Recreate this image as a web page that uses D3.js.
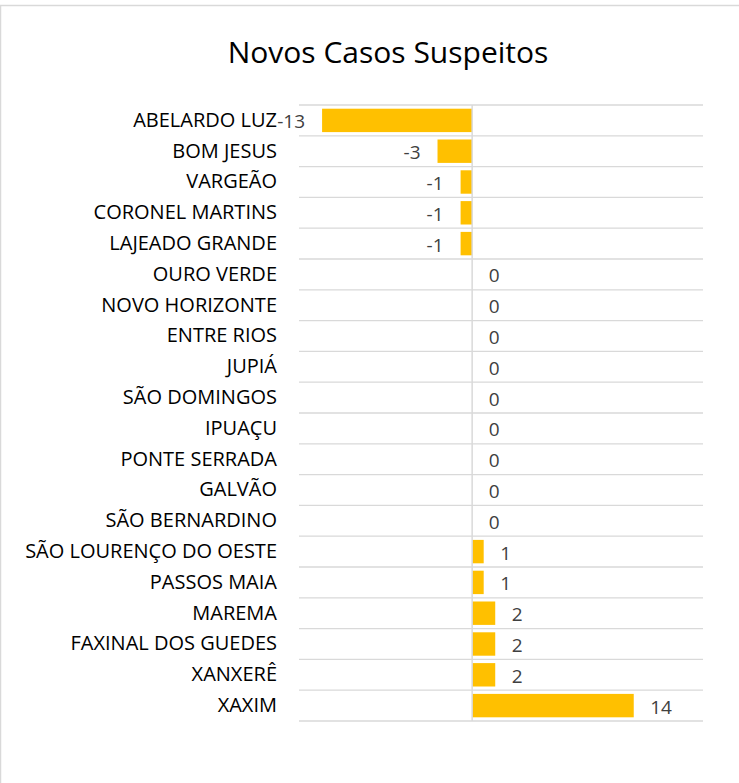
<!DOCTYPE html>
<html>
<head>
<meta charset="utf-8">
<script src="https://cdn.jsdelivr.net/npm/d3@7"></script>
<style>
  body { margin: 0; background: #fff; }
  text { font-family: "Open Sans", "Noto Sans", sans-serif; }
</style>
</head>
<body>
<div class="chart-container"></div>
<script>
const svgWidth = 739;
const svgHeight = 783;

const chartTitle = "Novos Casos Suspeitos";
const cidades = ["ABELARDO LUZ", "BOM JESUS", "VARGEÃO", "CORONEL MARTINS", "LAJEADO GRANDE",
  "OURO VERDE", "NOVO HORIZONTE", "ENTRE RIOS", "JUPIÁ", "SÃO DOMINGOS", "IPUAÇU",
  "PONTE SERRADA", "GALVÃO", "SÃO BERNARDINO", "SÃO LOURENÇO DO OESTE", "PASSOS MAIA",
  "MAREMA", "FAXINAL DOS GUEDES", "XANXERÊ", "XAXIM"];
const casos = [-13, -3, -1, -1, -1, 0, 0, 0, 0, 0, 0, 0, 0, 0, 1, 1, 2, 2, 2, 14];
const xDomain = [-15, 20];

const data = cidades.map(function(c, i) { return {cidade: c, valor: casos[i]}; });

const svg = d3.select(".chart-container")
  .append("svg")
  .attr("width", svgWidth)
  .attr("height", svgHeight);

// chart border (only top and left visible)
svg.append("rect")
  .attr("x", 0.5).attr("y", 5.5)
  .attr("width", svgWidth + 10).attr("height", svgHeight + 10)
  .attr("fill", "#fff")
  .attr("stroke", "#d9d9d9")
  .attr("stroke-width", 1.5);

svg.append("text")
  .attr("x", 388)
  .attr("y", 63)
  .attr("text-anchor", "middle")
  .style("font-size", "30px")
  .attr("fill", "#000")
  .text(chartTitle);

const x = d3.scaleLinear().domain(xDomain).range([299, 703]);
const y = d3.scaleBand().domain(cidades).range([105, 721]).paddingInner(0.24).paddingOuter(0.12);
const step = y.step();

// horizontal gridlines between categories
svg.append("g")
  .selectAll("line")
  .data(d3.range(cidades.length + 1))
  .enter().append("line")
  .attr("x1", x.range()[0]).attr("x2", x.range()[1])
  .attr("y1", function(i) { return 105 + i * step; })
  .attr("y2", function(i) { return 105 + i * step; })
  .attr("stroke", "#d9d9d9")
  .attr("stroke-width", 1.3);

svg.selectAll(".bar")
  .data(data)
  .enter().append("rect")
  .attr("class", "bar")
  .attr("x", function(d) { return x(Math.min(0, d.valor)); })
  .attr("y", function(d) { return y(d.cidade); })
  .attr("width", function(d) { return Math.abs(x(d.valor) - x(0)); })
  .attr("height", y.bandwidth())
  .attr("fill", "#ffc000");

// zero axis line
svg.append("line")
  .attr("x1", x(0)).attr("x2", x(0))
  .attr("y1", 105).attr("y2", 721)
  .attr("stroke", "#d9d9d9")
  .attr("stroke-width", 1.5);

// category labels
svg.append("g")
  .selectAll("text")
  .data(data)
  .enter().append("text")
  .attr("x", 277)
  .attr("y", function(d) { return y(d.cidade) + y.bandwidth() / 2; })
  .attr("dy", "0.32em")
  .attr("text-anchor", "end")
  .style("font-size", "20px")
  .attr("fill", "#000")
  .text(function(d) { return d.cidade; });

// value labels
svg.append("g")
  .selectAll("text")
  .data(data)
  .enter().append("text")
  .attr("x", function(d) { return d.valor < 0 ? x(d.valor) - 17 : x(d.valor) + 16.5; })
  .attr("y", function(d) { return y(d.cidade) + y.bandwidth() / 2; })
  .attr("dy", "0.42em")
  .attr("text-anchor", function(d) { return d.valor < 0 ? "end" : "start"; })
  .style("font-size", "19px")
  .attr("fill", "#404040")
  .text(function(d) { return d.valor; });
</script>
</body>
</html>
